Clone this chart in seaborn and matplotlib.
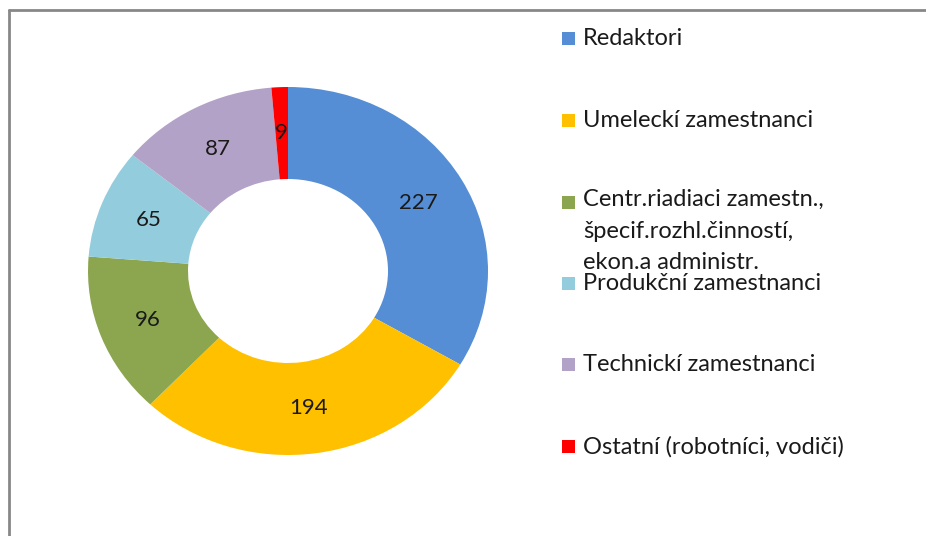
#!/usr/bin/env python3

import matplotlib as mpl
from matplotlib import pyplot as plt
from matplotlib.patches import Rectangle
from matplotlib.lines import Line2D
import seaborn as sns

sns.set_theme(style="white")
plt.rcParams['font.family'] = ['Lato', 'DejaVu Sans']

categories = [
    "Redaktori",
    "Umeleckí zamestnanci",
    "Centr.riadiaci zamestn.,\nšpecif.rozhl.činností,\nekon.a administr.",
    "Produkční zamestnanci",
    "Technickí zamestnanci",
    "Ostatní (robotníci, vodiči)",
]
counts = [227, 194, 96, 65, 87, 9]
colors = sns.color_palette(["#558ED5", "#FFC000", "#8BA64E", "#93CDDD", "#B3A2C7", "#FF0000"])

W, H = 926, 536
fig = plt.figure(figsize=(W / 100, H / 100), dpi=100)

# donut is drawn stretched, like the original
ax = fig.add_axes([88 / W, 1 - 455 / H, 400 / W, 368 / H])
total = sum(counts)
wedges, _, autotexts = ax.pie(
    counts, colors=colors, startangle=90, counterclock=False,
    wedgeprops=dict(width=0.5, linewidth=0),
    autopct=lambda p: f"{round(p * total / 100):d}", pctdistance=0.75,
    textprops=dict(fontsize=16, color="#1a1a1a"))
ax.set_aspect('auto')
ax.set_xlim(-1, 1)
ax.set_ylim(-1, 1)
ax.axis('off')

# legend, placed by hand to copy the spreadsheet layout
y0, step = 38.5, 81.6
for i, (lab, col) in enumerate(zip(categories, colors)):
    yc = y0 + i * step
    if i == 2:
        yc = 202
    fig.add_artist(Rectangle((562 / W, 1 - (yc + 6.5) / H), 13 / W, 13 / H,
                             transform=fig.transFigure, color=col, lw=0))
    if "\n" in lab:
        fig.text(583 / W, 1 - (yc - 13) / H, lab, ha='left', va='top',
                 fontsize=17, color="#1a1a1a", linespacing=1.62)
    else:
        fig.text(583 / W, 1 - yc / H, lab, ha='left', va='center',
                 fontsize=17, color="#1a1a1a")

# chart frame (only top and left edges visible)
fig.add_artist(Line2D([9 / W, 1], [1 - 10 / H, 1 - 10 / H], transform=fig.transFigure, color="#888888", lw=2))
fig.add_artist(Line2D([9 / W, 9 / W], [0, 1 - 10 / H], transform=fig.transFigure, color="#888888", lw=2))

fig.savefig('out.png', dpi=100)
